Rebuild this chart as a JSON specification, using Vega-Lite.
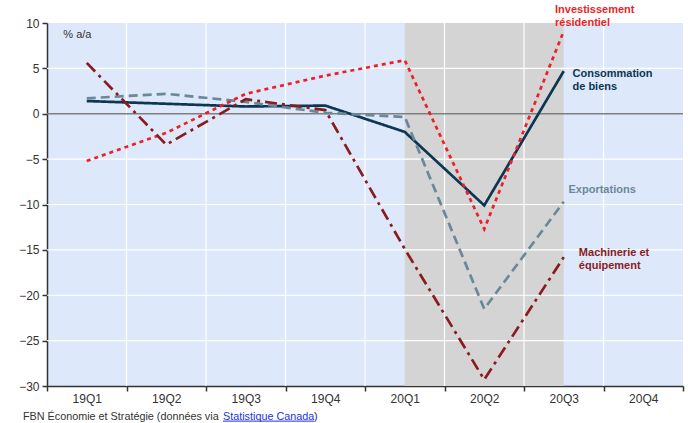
{
  "$schema": "https://vega.github.io/schema/vega-lite/v6.json",
  "width": 636,
  "height": 363,
  "autosize": "none",
  "padding": {"left": 47, "top": 23, "right": 5, "bottom": 37},
  "background": "white",
  "config": {
    "view": {"fill": "#dde9fb", "stroke": null},
    "font": "Liberation Sans",
    "text": {"font": "Liberation Sans"},
    "axis": {"grid": false, "title": null}
  },
  "datasets": {
    "series": [
      {"i": 1, "q": "19Q1", "s": "Consommation de biens", "v": 1.4},
      {"i": 2, "q": "19Q2", "s": "Consommation de biens", "v": 1.1},
      {"i": 3, "q": "19Q3", "s": "Consommation de biens", "v": 0.8},
      {"i": 4, "q": "19Q4", "s": "Consommation de biens", "v": 0.9},
      {"i": 5, "q": "20Q1", "s": "Consommation de biens", "v": -2.0},
      {"i": 6, "q": "20Q2", "s": "Consommation de biens", "v": -10.1},
      {"i": 7, "q": "20Q3", "s": "Consommation de biens", "v": 4.7},
      {"i": 1, "q": "19Q1", "s": "Exportations", "v": 1.7},
      {"i": 2, "q": "19Q2", "s": "Exportations", "v": 2.2},
      {"i": 3, "q": "19Q3", "s": "Exportations", "v": 1.3},
      {"i": 4, "q": "19Q4", "s": "Exportations", "v": 0.1},
      {"i": 5, "q": "20Q1", "s": "Exportations", "v": -0.35},
      {"i": 6, "q": "20Q2", "s": "Exportations", "v": -21.5},
      {"i": 7, "q": "20Q3", "s": "Exportations", "v": -9.7},
      {"i": 1, "q": "19Q1", "s": "Investissement résidentiel", "v": -5.2},
      {"i": 2, "q": "19Q2", "s": "Investissement résidentiel", "v": -2.1},
      {"i": 3, "q": "19Q3", "s": "Investissement résidentiel", "v": 2.2},
      {"i": 4, "q": "19Q4", "s": "Investissement résidentiel", "v": 4.2},
      {"i": 5, "q": "20Q1", "s": "Investissement résidentiel", "v": 5.9},
      {"i": 6, "q": "20Q2", "s": "Investissement résidentiel", "v": -12.7},
      {"i": 7, "q": "20Q3", "s": "Investissement résidentiel", "v": 9.1},
      {"i": 1, "q": "19Q1", "s": "Machinerie et équipement", "v": 5.6},
      {"i": 2, "q": "19Q2", "s": "Machinerie et équipement", "v": -3.4},
      {"i": 3, "q": "19Q3", "s": "Machinerie et équipement", "v": 1.6},
      {"i": 4, "q": "19Q4", "s": "Machinerie et équipement", "v": 0.4},
      {"i": 5, "q": "20Q1", "s": "Machinerie et équipement", "v": -14.9},
      {"i": 6, "q": "20Q2", "s": "Machinerie et équipement", "v": -29.3},
      {"i": 7, "q": "20Q3", "s": "Machinerie et équipement", "v": -15.8}
    ]
  },
  "layer": [
    {
      "data": {"values": [{"start": 5, "end": 7}]},
      "mark": {"type": "rect", "color": "#d4d4d4"},
      "encoding": {
        "x": {
          "field": "start", "type": "quantitative",
          "scale": {"domain": [0.5, 8.5], "nice": false, "zero": false},
          "axis": {
            "title": null, "grid": false,
            "values": [0.5, 1.5, 2.5, 3.5, 4.5, 5.5, 6.5, 7.5, 8.5],
            "labelExpr": "['19Q1','19Q2','19Q3','19Q4','20Q1','20Q2','20Q3','20Q4',''][round(datum.value - 0.5)]",
            "labelOffset": 39.75, "labelFlush": false, "labelOverlap": false,
            "labelFontSize": 12, "labelColor": "#333333", "labelPadding": 2,
            "tickSize": 5, "tickColor": "#333333", "tickWidth": 1.5,
            "domainColor": "#333333", "domainWidth": 1.5
          }
        },
        "x2": {"field": "end"}
      }
    },
    {
      "data": {"values": [{"b": 1.5}, {"b": 2.5}, {"b": 3.5}, {"b": 4.5}, {"b": 5.5}, {"b": 6.5}, {"b": 7.5}]},
      "mark": {"type": "rule", "color": "white", "strokeWidth": 1.2},
      "encoding": {
        "x": {"field": "b", "type": "quantitative"}
      }
    },
    {
      "data": {"values": [{"y": 5}, {"y": -5}, {"y": -10}, {"y": -15}, {"y": -20}, {"y": -25}]},
      "mark": {"type": "rule", "color": "white", "strokeWidth": 1.2},
      "encoding": {
        "y": {"field": "y", "type": "quantitative",
          "scale": {"domain": [-30, 10], "nice": false, "zero": false},
          "axis": {
            "title": null, "values": [-30,-25,-20,-15,-10,-5,0,5,10], "grid": false,
            "labelFontSize": 12, "labelColor": "#333333", "labelPadding": 3,
            "tickSize": 5, "tickColor": "#333333", "tickWidth": 1.5,
            "domainColor": "#333333", "domainWidth": 1.5
          }
        }
      }
    },
    {
      "data": {"values": [{"z": 0}]},
      "mark": {"type": "rule", "color": "#7f7f7f", "strokeWidth": 1.5},
      "encoding": {"y": {"field": "z", "type": "quantitative"}}
    },
    {
      "data": {"name": "series"},
      "mark": {"type": "line", "strokeWidth": 2.7, "strokeCap": "butt"},
      "encoding": {
        "x": {"field": "i", "type": "quantitative"},
        "y": {"field": "v", "type": "quantitative"},
        "color": {"field": "s", "type": "nominal", "legend": null,
          "scale": {"domain": ["Consommation de biens", "Exportations", "Investissement résidentiel", "Machinerie et équipement"],
                    "range": ["#0c3652", "#6a8898", "#ee1f27", "#8a1c1f"]}},
        "strokeDash": {"field": "s", "type": "nominal", "legend": null,
          "scale": {"domain": ["Consommation de biens", "Exportations", "Investissement résidentiel", "Machinerie et équipement"],
                    "range": [[1, 0], [9, 5], [4, 4], [12, 5, 3, 5]]}}
      }
    },
    {
      "data": {"values": [
        {"x": 6.89, "y": 11.1, "t": "Investissement", "c": "res"},
        {"x": 6.89, "y": 9.67, "t": "résidentiel", "c": "res"},
        {"x": 7.11, "y": 4.05, "t": "Consommation", "c": "con"},
        {"x": 7.11, "y": 2.62, "t": "de biens", "c": "con"},
        {"x": 7.06, "y": -8.68, "t": "Exportations", "c": "exp"},
        {"x": 7.19, "y": -15.67, "t": "Machinerie et", "c": "mac"},
        {"x": 7.19, "y": -17.1, "t": "équipement", "c": "mac"}
      ]},
      "mark": {"type": "text", "align": "left", "baseline": "alphabetic", "fontSize": 11, "fontWeight": "bold"},
      "encoding": {
        "x": {"field": "x", "type": "quantitative"},
        "y": {"field": "y", "type": "quantitative"},
        "text": {"field": "t"},
        "color": {"field": "c", "type": "nominal", "legend": null,
          "scale": {"domain": ["con", "exp", "res", "mac"], "range": ["#0c3652", "#6a8898", "#ee1f27", "#8a1c1f"]}}
      }
    },
    {
      "data": {"values": [{"x": 0.705, "y": 8.68, "t": "% a/a"}]},
      "mark": {"type": "text", "align": "left", "baseline": "middle", "fontSize": 11, "color": "#333333"},
      "encoding": {
        "x": {"field": "x", "type": "quantitative"},
        "y": {"field": "y", "type": "quantitative"},
        "text": {"field": "t"}
      }
    },
    {
      "data": {"values": [
        {"x": 0.198, "y": -33.72, "t": "FBN Économie et Stratégie (données via", "k": "plain"},
        {"x": 2.714, "y": -33.72, "t": "Statistique Canada", "k": "link"},
        {"x": 3.86, "y": -33.72, "t": ")", "k": "plain"}
      ]},
      "mark": {"type": "text", "align": "left", "baseline": "alphabetic", "fontSize": 10.8},
      "encoding": {
        "x": {"field": "x", "type": "quantitative"},
        "y": {"field": "y", "type": "quantitative"},
        "text": {"field": "t"},
        "color": {"field": "k", "type": "nominal", "legend": null,
          "scale": {"domain": ["plain", "link"], "range": ["#333333", "#1a33e6"]}}
      }
    },
    {
      "data": {"values": [{"x": 2.714, "x2": 3.86, "y": -33.87}]},
      "mark": {"type": "rule", "color": "#1a33e6", "strokeWidth": 1},
      "encoding": {
        "x": {"field": "x", "type": "quantitative"},
        "x2": {"field": "x2"},
        "y": {"field": "y", "type": "quantitative"}
      }
    }
  ],
  "resolve": {"scale": {"color": "independent"}}
}
